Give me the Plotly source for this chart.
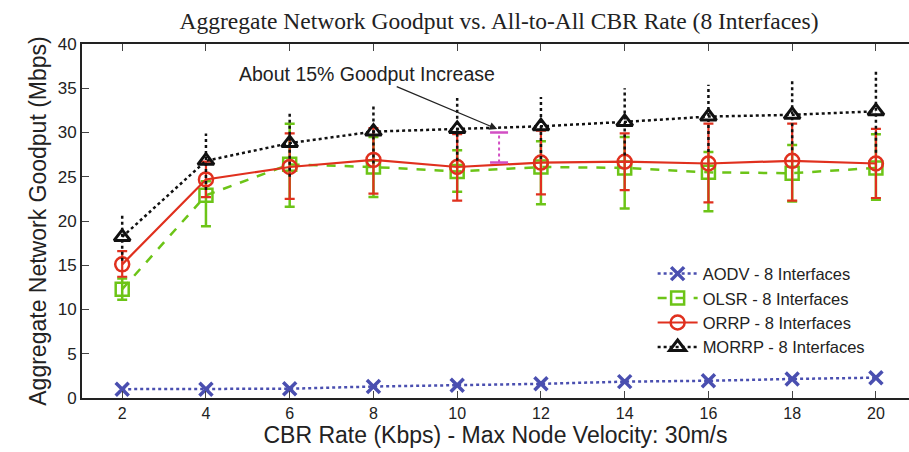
import plotly.graph_objects as go

cbr = [2, 4, 6, 8, 10, 12, 14, 16, 18, 20]

aodv = [1.0, 1.0, 1.05, 1.3, 1.45, 1.6, 1.85, 1.95, 2.15, 2.3]

olsr = [12.3, 22.9, 26.4, 26.1, 25.6, 26.1, 26.0, 25.5, 25.4, 26.0]
olsr_hi = [13.5, 24.5, 31.0, 29.5, 28.0, 29.0, 29.5, 27.8, 28.6, 29.8]
olsr_lo = [11.1, 19.4, 21.6, 22.7, 23.3, 21.9, 21.4, 21.1, 22.2, 22.4]

orrp = [15.1, 24.7, 26.1, 26.9, 26.1, 26.6, 26.7, 26.5, 26.8, 26.5]
orrp_hi = [16.6, 26.7, 29.9, 30.5, 29.8, 30.2, 29.9, 31.0, 31.0, 30.4]
orrp_lo = [13.7, 22.7, 22.5, 23.1, 22.3, 23.0, 23.5, 22.1, 22.3, 22.6]

morrp = [18.2, 26.8, 28.8, 30.1, 30.4, 30.7, 31.2, 31.8, 32.0, 32.4]
morrp_hi = [20.7, 29.9, 32.3, 33.2, 33.9, 34.0, 35.0, 35.4, 35.9, 36.9]
morrp_lo = [15.5, 23.5, 25.0, 26.5, 26.8, 27.0, 27.4, 27.8, 28.0, 27.7]

gap_x = [11, 11]
gap_y = [26.6, 30.0]

names = ["AODV - 8 Interfaces", "OLSR - 8 Interfaces", "ORRP - 8 Interfaces", "MORRP - 8 Interfaces"]
note = "About 15% Goodput Increase"


def up(v, h):
    return [a - b for a, b in zip(h, v)]


def dn(v, l):
    return [b - a for a, b in zip(l, v)]


fig = go.Figure()

fig.add_trace(go.Scatter(
    x=cbr, y=aodv, name=names[0], mode="lines+markers",
    line=dict(color="#4a4fb0", width=2.5, dash="dot"),
    marker=dict(symbol="x-thin-open", size=13, line=dict(color="#4a4fb0", width=3.5)),
))

fig.add_trace(go.Scatter(
    x=cbr, y=olsr, name=names[1], mode="lines+markers",
    line=dict(color="#6cc417", width=2.5, dash="dash"),
    marker=dict(symbol="square-open", size=13, color="#6cc417", line=dict(width=2.5)),
    error_y=dict(type="data", symmetric=False, array=up(olsr, olsr_hi),
                 arrayminus=dn(olsr, olsr_lo), color="#6cc417", thickness=2.5, width=5),
))

fig.add_trace(go.Scatter(
    x=cbr, y=orrp, name=names[2], mode="lines+markers",
    line=dict(color="#e0301e", width=2.2),
    marker=dict(symbol="circle-open", size=14, color="#e0301e", line=dict(width=2.5)),
    error_y=dict(type="data", symmetric=False, array=up(orrp, orrp_hi),
                 arrayminus=dn(orrp, orrp_lo), color="#e0301e", thickness=2.2, width=5),
))

# dotted MORRP error bars
ebx, eby = [], []
for x, lo, hi in zip(cbr, morrp_lo, morrp_hi):
    ebx += [x, x, None]
    eby += [lo, hi, None]
fig.add_trace(go.Scatter(
    x=ebx, y=eby, mode="lines", showlegend=False, hoverinfo="skip",
    line=dict(color="#111111", width=2.5, dash="dot"),
))

fig.add_trace(go.Scatter(
    x=cbr, y=morrp, name=names[3], mode="lines+markers",
    line=dict(color="#111111", width=2.5, dash="dot"),
    marker=dict(symbol="triangle-up-open", size=14, color="#111111", line=dict(width=3)),
))

fig.add_trace(go.Scatter(
    x=gap_x, y=gap_y, mode="lines", showlegend=False,
    line=dict(color="#d24fc4", width=2, dash="dot"),
    error_y=dict(type="data", array=[0, 0], color="#d24fc4", thickness=2.5, width=9),
))

fig.add_annotation(
    x=11, y=30.3, xref="x", yref="y", ax=7.85, ay=36.6, axref="x", ayref="y",
    text=note, showarrow=True, arrowhead=2, arrowsize=1.3,
    arrowwidth=1.2, arrowcolor="#222", standoff=2,
    font=dict(family="Liberation Sans, Arial", size=19.5, color="#222"),
)

fig.update_layout(
    width=909, height=452,
    margin=dict(l=82, r=0, t=44, b=54),
    plot_bgcolor="white", paper_bgcolor="white",
    title=dict(text="Aggregate Network Goodput vs. All-to-All CBR Rate (8 Interfaces)",
               x=0.549, xanchor="center", y=0.953, yanchor="middle",
               font=dict(family="Liberation Serif, Times New Roman", size=23.5, color="#222")),
    font=dict(family="Liberation Sans, Arial", color="#222"),
    legend=dict(x=0.69, y=0.40, xanchor="left", yanchor="top",
                bgcolor="rgba(0,0,0,0)", font=dict(size=16.5), tracegroupgap=0,
                itemwidth=40),
    xaxis=dict(range=[1.04, 20.79], tickvals=cbr, ticks="inside", ticklen=7,
               showline=True, linecolor="#222", linewidth=2, mirror="ticks",
               showgrid=False, zeroline=False, tickfont=dict(size=16),
               title=dict(text="CBR Rate (Kbps) - Max Node Velocity: 30m/s",
                          font=dict(size=23), standoff=3)),
    yaxis=dict(range=[0, 40], dtick=5, ticks="inside", ticklen=7,
               showline=True, linecolor="#222", linewidth=2, mirror=False,
               showgrid=False, zeroline=False, tickfont=dict(size=17),
               title=dict(text="Aggregate Network Goodput (Mbps)",
                          font=dict(size=23), standoff=5)),
)

fig.write_html("out.html")
